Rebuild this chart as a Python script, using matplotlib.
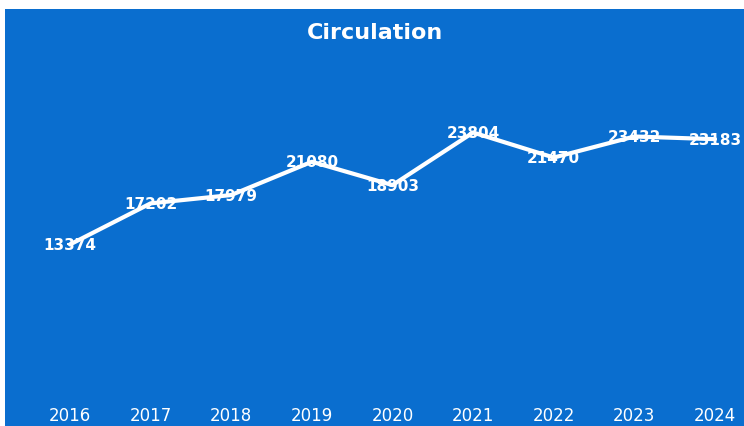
import matplotlib
matplotlib.use("Agg")
import matplotlib.pyplot as plt
from matplotlib.patches import Rectangle

years = ["2016", "2017", "2018", "2019", "2020", "2021", "2022", "2023", "2024"]
circulation = [13374, 17202, 17979, 21080, 18903, 23804, 21470, 23432, 23183]

W, H = 744, 427
fig = plt.figure(figsize=(W / 100, H / 100), dpi=100, facecolor="white")
bg = "#0a6ecf"
fig.patches.append(Rectangle((5 / W, 0), 1 - 5 / W, 1 - 10 / H, transform=fig.transFigure,
                             facecolor=bg, edgecolor="none", zorder=-5))

ax = fig.add_axes([70 / W, 1 - 389 / H, (715 - 70) / W, (389 - 67) / H])
ax.set_facecolor("none")
ax.set_zorder(2)
x = list(range(len(years)))
ax.plot(x, circulation, color="white", lw=3.0, solid_capstyle="round", clip_on=False)
for xi, v in zip(x, circulation):
    ax.text(xi, v, f"{v}", color="white", fontsize=11, fontweight="bold",
            ha="center", va="center", family="DejaVu Sans")
ax.set_xlim(0, 8)
ax.set_ylim(0, 30000)
ax.set_xticks(x)
ax.set_xticklabels(years, color="white", fontsize=12)
ax.tick_params(axis="x", length=0, pad=13)
ax.set_yticks([])
for s in ax.spines.values():
    s.set_visible(False)

fig.text(375 / W, 1 - 33 / H, "Circulation", color="white", fontsize=16, fontweight="bold",
         ha="center", va="center")

fig.savefig("out.png", dpi=100, facecolor="white")
